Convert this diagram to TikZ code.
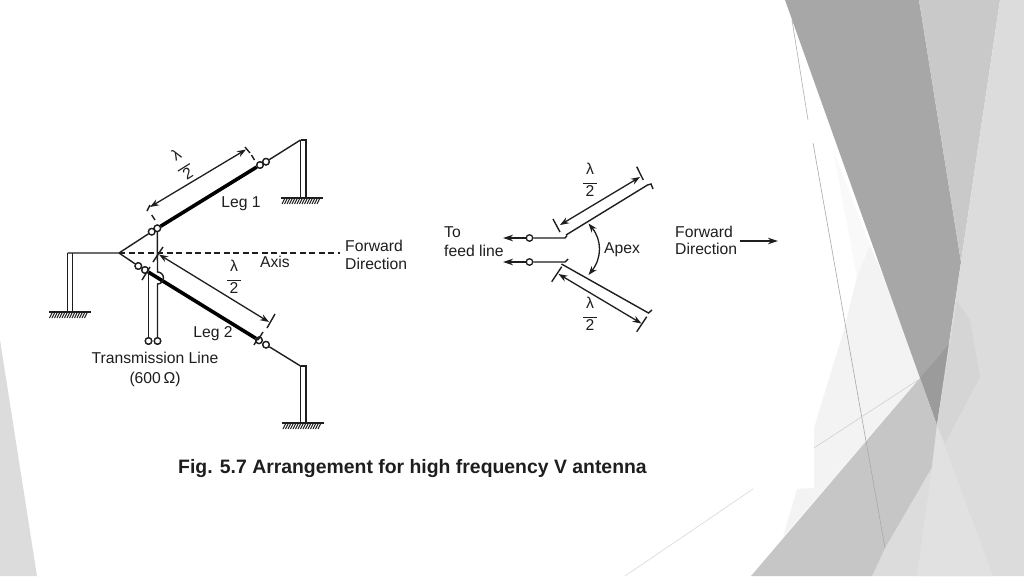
\documentclass[tikz,border=0pt]{standalone}
\usepackage{fontspec}
\setmainfont{Liberation Sans}
\usetikzlibrary{arrows.meta}
\definecolor{ink}{HTML}{1E1E1E}
\newcommand\halfwave{\begin{tabular}{@{}c@{}}λ\\[-7.5pt]\rule{14pt}{1.1pt}\\[-5pt]2\end{tabular}}
\tikzset{
  wire/.style={draw=ink,line width=1.4pt},
  thick wire/.style={draw=black,line width=3.6pt},
  dim/.style={draw=ink,line width=1.3pt,{Stealth[length=9pt,width=6.5pt]}-{Stealth[length=9pt,width=6.5pt]}},
  feed/.style={draw=ink,line width=1.4pt,-{Stealth[length=10pt,width=6.5pt]}},
  tick/.style={draw=ink,line width=1.4pt},
  ring/.style={circle,draw=ink,fill=white,line width=1.3pt,minimum size=6.5pt,inner sep=0pt},
  label/.style={text=ink,font=\fontsize{15.7}{17}\selectfont,inner sep=0pt},
  bg/.style={fill={rgb,255:red,#1;green,#1;blue,#1},draw=none},
  hair/.style={draw={rgb,255:red,#1;green,#1;blue,#1},line width=.6pt},
  earth/.pic={
    \fill[ink] (-21,0) rectangle (21,1.6);
    \foreach \i in {-20,-17.5,...,16} \draw[ink,line width=1pt] (\i+3,1) -- (\i,7);
  }
}
\begin{document}
\begin{tikzpicture}[x=1pt,y=-1pt]
\useasboundingbox (0,0) rectangle (1024,576);
\fill[white] (0,0) rectangle (1024,576);
% backdrop
\path[bg=220] (0,340) -- (37,576) -- (0,576) -- cycle;
\path[bg=249] (833,150) -- (870,245) -- (857,277) -- cycle;
\path[bg=243] (870,245) -- (893,300) -- (920,378) -- (783,537) -- (797,489) -- (814,488) -- (814,428) -- (843,333) -- (857,277) -- cycle;
\path[bg=167] (785,0) -- (919,0) -- (961,262) -- (937,425) -- (920,378) -- cycle;
\path[bg=155] (920,378) -- (950,343) -- (937,425) -- cycle;
\path[bg=201] (919,0) -- (1000,0) -- (961,262) -- cycle;
\path[bg=220] (1000,0) -- (1024,0) -- (1024,576) -- (872,576) -- (937,425) -- (961,262) -- cycle;
\path[bg=213] (957,300) -- (970,320) -- (980,377) -- (945,443) -- (937,425) -- cycle;
\path[bg=198] (751,576) -- (920,378) -- (937,425) -- (932,467) -- (885,548) -- (872,576) -- cycle;
\path[bg=225] (937,425) -- (993,576) -- (917,576) -- (932,467) -- cycle;
\draw[hair=176] (792,20) -- (808,120);
\draw[hair=168] (813,143) -- (885,548);
\draw[hair=208] (814,448) -- (918,380);
\draw[hair=216] (625,576) -- (753,489);

% ---- left antenna
\coordinate (apex) at (119,253);
\coordinate (mastL) at (67.5,253);
\coordinate (topR) at (300.5,140);
\coordinate (botR) at (300.5,366);
\coordinate (axisEnd) at (340,253);
\node[ring] (r1a) at (151.7,231.7) {};
\node[ring] (r1b) at (157.3,228.3) {};
\node[ring] (r1c) at (260,165) {};
\node[ring] (r1d) at (266,161.7) {};
\node[ring] (r2a) at (138.3,266) {};
\node[ring] (r2b) at (145,270) {};
\node[ring] (r2c) at (259,340.3) {};
\node[ring] (r2d) at (266,344.7) {};
\node[ring] (t1) at (148.5,341) {};
\node[ring] (t2) at (157.5,341) {};
\coordinate (g1) at (302,197);
\coordinate (g2) at (303,422);
\coordinate (g3) at (69.5,311);
\coordinate (hop1) at (157.5,272);
\coordinate (t1top) at (148.5,272);

\draw[wire,dash pattern=on 6pt off 3.5pt] (apex) -- (axisEnd);
\draw[thick wire] (r1b) -- (r1c);
\draw[thick wire] (r2b) -- (r2c);
\draw[wire] (mastL) -- (apex) -- (r1a) -- (r1b);
\draw[wire] (apex) -- (r2a) -- (r2b);
\draw[wire] (r1d) -- (topR);
\draw[wire] (r2d) -- (botR);
\draw[wire] (r1b) -- (hop1) arc[start angle=-90,end angle=90,radius=6] -- (t2);
\draw[wire] (t1top) -- (t1);
% masts
\draw[wire] (mastL) -- (67.5,311) (72.5,253) -- (72.5,311);
\draw[wire] (topR) -- (300.5,197) (topR) -- (306,140) -- (306,197);
\draw[wire] (botR) -- (300.5,422) (botR) -- (306,366) -- (306,422);
\pic at (g1) {earth};
\pic at (g2) {earth};
\pic at (g3) {earth};
\foreach \n in {r1a,r1b,r1c,r1d,r2a,r2b,r2c,r2d,t1,t2}
  \node[ring] at (\n) {};
% dimension marks, left
\coordinate (d1s) at (150,207);
\coordinate (d1e) at (246,149.5);
\draw[dim] (d1s) -- (d1e);
\draw[tick] (147,211) -- (150,205) (151.7,215) -- (155,220);
\draw[tick] (245,147) -- (250,153) (251.5,155) -- (254.5,160);
\coordinate (d2s) at (159,254.5);
\coordinate (d2e) at (269,322);
\draw[dim] (d2s) -- (d2e);
\draw[tick] (163,247) -- (153,262);
\draw[tick] (275,314) -- (267,328) (263,332) -- (258,340);
\draw[tick] (150,267) -- (142,280);
\draw[tick] (258,338) -- (254,345);

% labels, left
\node[label,rotate=32] (lam1) at (183,166) {\halfwave};
\node[label] (lam2) at (234,279) {\halfwave};
\node[label] (leg1) at (241,204) {Leg 1};
\node[label] (leg2) at (213,334) {Leg 2};
\node[label] (axis) at (275,262) {Axis};
\node[label,anchor=west] (fw1) at (345,246) {Forward};
\node[label,anchor=west] (fw2) at (345,264) {Direction};
\node[label] (tl1) at (155,358) {Transmission Line};
\node[label] (tl2) at (155,379) {(600\,Ω)};

% ---- right figure
\node[ring] (f1) at (529.5,238) {};
\node[ring] (f2) at (529.5,262) {};
\coordinate (fa) at (565,238);
\coordinate (fb) at (565,262);
\coordinate (ta) at (503,238);
\coordinate (tb) at (503,262);
\draw[feed] (f1) -- (ta);
\draw[feed] (f2) -- (tb);
\draw[wire] (f1) -- (fa) -- (567,235.5);
\draw[wire] (f2) -- (fb) -- (568,259);
\coordinate (u1) at (566,235);
\coordinate (u2) at (647.5,185);
\coordinate (l1) at (561.5,264);
\coordinate (l2) at (648.5,313);
\draw[wire] (u1) -- (u2) -- (651,184) -- (653,189);
\draw[wire] (l1) -- (l2) -- (652,310);
\coordinate (du1) at (560,225);
\coordinate (du2) at (640,177);
\coordinate (dl1) at (558.5,274);
\coordinate (dl2) at (641.5,323.5);
\draw[dim] (du1) -- (du2);
\draw[dim] (dl1) -- (dl2);
\draw[tick] (553,219) -- (560,232);
\draw[tick] (636.7,166.7) -- (643.3,180);
\draw[tick] (551.7,281.7) -- (561.7,266.7);
\draw[tick] (636.7,331.7) -- (646.7,316.7);
\coordinate (a1) at (588.5,223.5);
\coordinate (a2) at (588.5,275);
\draw[dim] (a1) .. controls (602,240) and (602,258) .. (a2);
\coordinate (fwA) at (740,241);
\coordinate (fwB) at (778,241);
\draw[feed] (fwA) -- (fwB);

\node[label] (lam3) at (590,182) {\halfwave};
\node[label] (lam4) at (590,316) {\halfwave};
\node[label] (apexl) at (622,250) {Apex};
\node[label,anchor=west] (to1) at (444,232) {To};
\node[label,anchor=west] (to2) at (444,251) {feed line};
\node[label,anchor=west] (fw3) at (675,232) {Forward};
\node[label,anchor=west] (fw4) at (675,249) {Direction};
\node[text=ink,inner sep=0pt,font=\fontsize{19.4}{21}\selectfont\bfseries] (cap) at (412.5,469) {Fig. 5.7 Arrangement for high frequency V antenna};
\end{tikzpicture}
\end{document}
